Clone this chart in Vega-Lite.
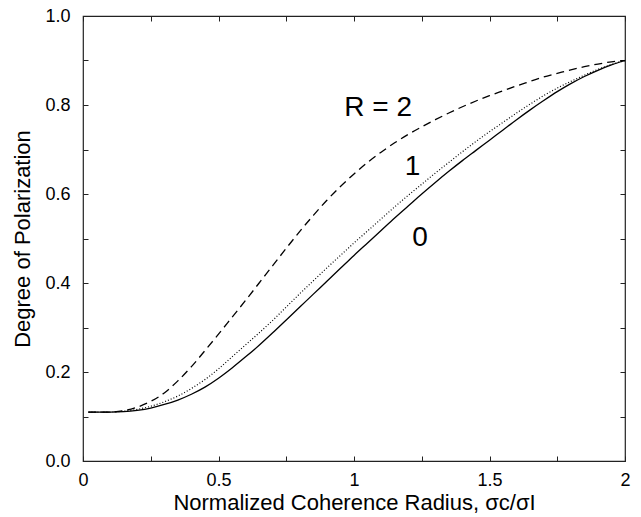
{
  "$schema": "https://vega.github.io/schema/vega-lite/v6.json",
  "autosize": {"type": "none"},
  "padding": {"left": 83, "top": 16, "right": 16, "bottom": 56},
  "width": 542,
  "height": 445,
  "background": "white",
  "config": {
    "view": {"stroke": "#222", "strokeWidth": 1.2},
    "font": "Liberation Sans",
    "axis": {"grid": false, "domain": false, "tickColor": "#222", "tickWidth": 1, "labelColor": "black", "titleColor": "black", "labelFont": "Liberation Sans", "titleFont": "Liberation Sans", "titleFontWeight": "normal"}
  },
  "datasets": {
    "curves": [
      {"R": 0, "x": 0.02, "y": 0.110}, {"R": 0, "x": 0.10, "y": 0.110}, {"R": 0, "x": 0.15, "y": 0.111}, {"R": 0, "x": 0.20, "y": 0.114}, {"R": 0, "x": 0.25, "y": 0.119}, {"R": 0, "x": 0.30, "y": 0.127}, {"R": 0, "x": 0.35, "y": 0.137}, {"R": 0, "x": 0.40, "y": 0.150}, {"R": 0, "x": 0.45, "y": 0.166}, {"R": 0, "x": 0.50, "y": 0.186}, {"R": 0, "x": 0.55, "y": 0.209}, {"R": 0, "x": 0.60, "y": 0.234}, {"R": 0, "x": 0.65, "y": 0.260}, {"R": 0, "x": 0.70, "y": 0.288}, {"R": 0, "x": 0.75, "y": 0.317}, {"R": 0, "x": 0.80, "y": 0.346}, {"R": 0, "x": 0.85, "y": 0.375}, {"R": 0, "x": 0.90, "y": 0.404}, {"R": 0, "x": 0.95, "y": 0.433}, {"R": 0, "x": 1.00, "y": 0.462}, {"R": 0, "x": 1.05, "y": 0.490}, {"R": 0, "x": 1.10, "y": 0.518}, {"R": 0, "x": 1.15, "y": 0.546}, {"R": 0, "x": 1.20, "y": 0.573}, {"R": 0, "x": 1.25, "y": 0.600}, {"R": 0, "x": 1.30, "y": 0.626}, {"R": 0, "x": 1.35, "y": 0.651}, {"R": 0, "x": 1.40, "y": 0.675}, {"R": 0, "x": 1.45, "y": 0.698}, {"R": 0, "x": 1.50, "y": 0.721}, {"R": 0, "x": 1.55, "y": 0.744}, {"R": 0, "x": 1.60, "y": 0.767}, {"R": 0, "x": 1.65, "y": 0.789}, {"R": 0, "x": 1.70, "y": 0.810}, {"R": 0, "x": 1.75, "y": 0.830}, {"R": 0, "x": 1.80, "y": 0.848}, {"R": 0, "x": 1.85, "y": 0.864}, {"R": 0, "x": 1.90, "y": 0.878}, {"R": 0, "x": 1.95, "y": 0.890}, {"R": 0, "x": 2.00, "y": 0.900},
      {"R": 1, "x": 0.02, "y": 0.110}, {"R": 1, "x": 0.10, "y": 0.110}, {"R": 1, "x": 0.15, "y": 0.112}, {"R": 1, "x": 0.20, "y": 0.116}, {"R": 1, "x": 0.25, "y": 0.123}, {"R": 1, "x": 0.30, "y": 0.133}, {"R": 1, "x": 0.35, "y": 0.146}, {"R": 1, "x": 0.40, "y": 0.163}, {"R": 1, "x": 0.45, "y": 0.183}, {"R": 1, "x": 0.50, "y": 0.207}, {"R": 1, "x": 0.55, "y": 0.234}, {"R": 1, "x": 0.60, "y": 0.261}, {"R": 1, "x": 0.65, "y": 0.288}, {"R": 1, "x": 0.70, "y": 0.316}, {"R": 1, "x": 0.75, "y": 0.346}, {"R": 1, "x": 0.80, "y": 0.376}, {"R": 1, "x": 0.85, "y": 0.405}, {"R": 1, "x": 0.90, "y": 0.434}, {"R": 1, "x": 0.95, "y": 0.462}, {"R": 1, "x": 1.00, "y": 0.490}, {"R": 1, "x": 1.05, "y": 0.517}, {"R": 1, "x": 1.10, "y": 0.544}, {"R": 1, "x": 1.15, "y": 0.571}, {"R": 1, "x": 1.20, "y": 0.597}, {"R": 1, "x": 1.25, "y": 0.622}, {"R": 1, "x": 1.30, "y": 0.647}, {"R": 1, "x": 1.35, "y": 0.671}, {"R": 1, "x": 1.40, "y": 0.695}, {"R": 1, "x": 1.45, "y": 0.718}, {"R": 1, "x": 1.50, "y": 0.740}, {"R": 1, "x": 1.55, "y": 0.761}, {"R": 1, "x": 1.60, "y": 0.782}, {"R": 1, "x": 1.65, "y": 0.802}, {"R": 1, "x": 1.70, "y": 0.821}, {"R": 1, "x": 1.75, "y": 0.838}, {"R": 1, "x": 1.80, "y": 0.853}, {"R": 1, "x": 1.85, "y": 0.867}, {"R": 1, "x": 1.90, "y": 0.880}, {"R": 1, "x": 1.95, "y": 0.891}, {"R": 1, "x": 2.00, "y": 0.900},
      {"R": 2, "x": 0.02, "y": 0.110}, {"R": 2, "x": 0.10, "y": 0.110}, {"R": 2, "x": 0.15, "y": 0.113}, {"R": 2, "x": 0.20, "y": 0.121}, {"R": 2, "x": 0.25, "y": 0.134}, {"R": 2, "x": 0.30, "y": 0.153}, {"R": 2, "x": 0.35, "y": 0.180}, {"R": 2, "x": 0.40, "y": 0.212}, {"R": 2, "x": 0.45, "y": 0.248}, {"R": 2, "x": 0.50, "y": 0.285}, {"R": 2, "x": 0.55, "y": 0.323}, {"R": 2, "x": 0.60, "y": 0.361}, {"R": 2, "x": 0.65, "y": 0.400}, {"R": 2, "x": 0.70, "y": 0.439}, {"R": 2, "x": 0.75, "y": 0.478}, {"R": 2, "x": 0.80, "y": 0.516}, {"R": 2, "x": 0.85, "y": 0.552}, {"R": 2, "x": 0.90, "y": 0.586}, {"R": 2, "x": 0.95, "y": 0.617}, {"R": 2, "x": 1.00, "y": 0.645}, {"R": 2, "x": 1.05, "y": 0.671}, {"R": 2, "x": 1.10, "y": 0.694}, {"R": 2, "x": 1.15, "y": 0.715}, {"R": 2, "x": 1.20, "y": 0.734}, {"R": 2, "x": 1.25, "y": 0.751}, {"R": 2, "x": 1.30, "y": 0.767}, {"R": 2, "x": 1.35, "y": 0.782}, {"R": 2, "x": 1.40, "y": 0.796}, {"R": 2, "x": 1.45, "y": 0.809}, {"R": 2, "x": 1.50, "y": 0.821}, {"R": 2, "x": 1.55, "y": 0.832}, {"R": 2, "x": 1.60, "y": 0.843}, {"R": 2, "x": 1.65, "y": 0.853}, {"R": 2, "x": 1.70, "y": 0.863}, {"R": 2, "x": 1.75, "y": 0.871}, {"R": 2, "x": 1.80, "y": 0.879}, {"R": 2, "x": 1.85, "y": 0.886}, {"R": 2, "x": 1.90, "y": 0.892}, {"R": 2, "x": 1.95, "y": 0.897}, {"R": 2, "x": 2.00, "y": 0.900}
    ],
    "labels": [
      {"label": "R = 2", "x": 1.089, "y": 0.793},
      {"label": "1", "x": 1.216, "y": 0.660},
      {"label": "0", "x": 1.244, "y": 0.501}
    ]
  },
  "resolve": {"axis": {"x": "independent", "y": "independent"}},
  "layer": [
    {
      "data": {"name": "curves"},
      "transform": [{"filter": "datum.R == 0"}],
      "mark": {"type": "line", "color": "black", "strokeWidth": 1.3, "interpolate": "monotone"},
      "encoding": {
        "x": {"field": "x", "type": "quantitative", "scale": {"domain": [0, 2], "nice": false, "zero": false},
          "axis": {"orient": "bottom", "title": "Normalized Coherence Radius, σc/σI", "titleFontSize": 22, "titlePadding": 3,
            "values": [0, 0.25, 0.5, 0.75, 1, 1.25, 1.5, 1.75, 2],
            "labelExpr": "datum.value % 0.5 === 0 ? '' + datum.value : ''",
            "labelFontSize": 18, "tickSize": -5, "labelPadding": 15, "labelFlush": false}},
        "y": {"field": "y", "type": "quantitative", "scale": {"domain": [0, 1], "nice": false},
          "axis": {"orient": "left", "title": "Degree of Polarization", "titleFontSize": 22, "titlePadding": 10,
            "values": [0, 0.1, 0.2, 0.3, 0.4, 0.5, 0.6, 0.7, 0.8, 0.9, 1],
            "labelExpr": "round(datum.value * 10) % 2 === 0 ? format(datum.value, '.1f') : ''",
            "labelFontSize": 18, "tickSize": -5, "labelPadding": 18}}
      }
    },
    {
      "data": {"name": "curves"},
      "transform": [{"filter": "datum.R == 1"}],
      "mark": {"type": "line", "color": "black", "strokeWidth": 1.2, "strokeDash": [1, 2], "interpolate": "monotone"},
      "encoding": {
        "x": {"field": "x", "type": "quantitative", "axis": null},
        "y": {"field": "y", "type": "quantitative", "axis": null}
      }
    },
    {
      "data": {"name": "curves"},
      "transform": [{"filter": "datum.R == 2"}],
      "mark": {"type": "line", "color": "black", "strokeWidth": 1.3, "strokeDash": [8, 5], "interpolate": "monotone"},
      "encoding": {
        "x": {"field": "x", "type": "quantitative", "axis": null},
        "y": {"field": "y", "type": "quantitative", "axis": null}
      }
    },
    {
      "data": {"name": "labels"},
      "mark": {"type": "text", "fontSize": 28, "font": "Liberation Sans", "color": "black", "align": "center", "baseline": "middle"},
      "encoding": {
        "text": {"field": "label"},
        "x": {"field": "x", "type": "quantitative",
          "axis": {"orient": "top", "title": null, "labels": false, "tickSize": -5,
            "values": [0, 0.25, 0.5, 0.75, 1, 1.25, 1.5, 1.75, 2]}},
        "y": {"field": "y", "type": "quantitative",
          "axis": {"orient": "right", "title": null, "labels": false, "tickSize": -5,
            "values": [0, 0.1, 0.2, 0.3, 0.4, 0.5, 0.6, 0.7, 0.8, 0.9, 1]}}
      }
    }
  ]
}
